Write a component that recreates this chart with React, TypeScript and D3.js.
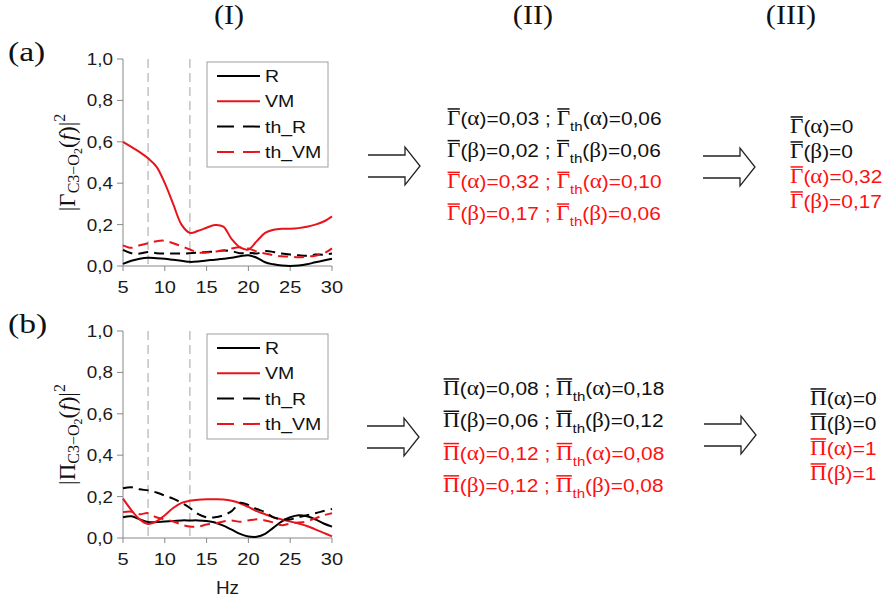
import React, { useEffect, useRef } from 'react';
import * as d3 from 'd3';

// ---------- data ----------
const hz = [5, 6, 7, 8, 9, 10, 11, 12, 13, 14, 15, 16, 17, 18, 19, 20, 21, 22, 23, 24, 25, 26, 27, 28, 29, 30];

const aR = [0.01, 0.025, 0.035, 0.04, 0.038, 0.035, 0.03, 0.025, 0.02, 0.022, 0.027, 0.03, 0.035, 0.04, 0.047, 0.052, 0.04, 0.018, 0.008, 0.002, 0.0, 0.002, 0.008, 0.018, 0.027, 0.035];
const aVM = [0.6, 0.575, 0.55, 0.52, 0.48, 0.4, 0.3, 0.2, 0.16, 0.17, 0.185, 0.198, 0.19, 0.13, 0.09, 0.08, 0.12, 0.16, 0.175, 0.18, 0.18, 0.183, 0.19, 0.2, 0.215, 0.24];
const aThR = [0.078, 0.062, 0.06, 0.068, 0.062, 0.06, 0.06, 0.06, 0.062, 0.065, 0.068, 0.07, 0.075, 0.072, 0.062, 0.065, 0.06, 0.072, 0.068, 0.06, 0.055, 0.052, 0.05, 0.055, 0.055, 0.06];
const aThVM = [0.1, 0.088, 0.1, 0.11, 0.12, 0.122, 0.11, 0.095, 0.08, 0.065, 0.065, 0.07, 0.075, 0.085, 0.09, 0.085, 0.07, 0.06, 0.052, 0.047, 0.045, 0.042, 0.045, 0.05, 0.06, 0.085];

const bR = [0.1, 0.105, 0.09, 0.077, 0.077, 0.08, 0.082, 0.085, 0.085, 0.085, 0.082, 0.075, 0.06, 0.04, 0.02, 0.007, 0.006, 0.02, 0.05, 0.08, 0.1, 0.11, 0.105, 0.09, 0.07, 0.055];
const bVM = [0.19, 0.135, 0.09, 0.068, 0.08, 0.11, 0.145, 0.17, 0.18, 0.185, 0.187, 0.187, 0.186, 0.18, 0.168, 0.15, 0.13, 0.115, 0.1, 0.09, 0.08, 0.07, 0.058, 0.042, 0.025, 0.008];
const bThR = [0.24, 0.245, 0.235, 0.23, 0.22, 0.205, 0.19, 0.17, 0.145, 0.115, 0.1, 0.1, 0.11, 0.13, 0.17, 0.16, 0.14, 0.125, 0.1, 0.09, 0.09, 0.1, 0.11, 0.12, 0.13, 0.14];
const bThVM = [0.125, 0.127, 0.115, 0.12, 0.1, 0.09, 0.08, 0.065, 0.055, 0.055, 0.065, 0.07, 0.08, 0.085, 0.078, 0.085, 0.09, 0.085, 0.075, 0.062, 0.07, 0.075, 0.08, 0.095, 0.11, 0.12];

const seriesNames = ['R', 'VM', 'th_R', 'th_VM'];
const yTicks = [0, 0.2, 0.4, 0.6, 0.8, 1.0];
const xTicks = [5, 10, 15, 20, 25, 30];
const bandLines = [8, 13];

const columnHeaders = ['(I)', '(II)', '(III)'];
const panelLabels = ['(a)', '(b)'];

const bands = ['α', 'β', 'α', 'β'];
const gammaMean = ['0,03', '0,02', '0,32', '0,17'];
const gammaTh = ['0,06', '0,06', '0,10', '0,06'];
const gammaFinal = ['0', '0', '0,32', '0,17'];
const piMean = ['0,08', '0,06', '0,12', '0,12'];
const piTh = ['0,18', '0,12', '0,08', '0,08'];
const piFinal = ['0', '0', '1', '1'];

// ---------- style ----------
const RED = '#e8141c';
const TXT_RED = '#ff1010';
const SANS = 'Liberation Sans, Arial, sans-serif';
const SERIF = 'Liberation Serif, Times New Roman, serif';
const SX = 1.18;

const seriesStyles = [
  { color: '#000', dash: 'none' },
  { color: RED, dash: 'none' },
  { color: '#000', dash: '10,6' },
  { color: RED, dash: '10,6' },
];

const xLeft = 123;
const xRight = 332;
const x = d3.scaleLinear().domain([5, 30]).range([xLeft, xRight]);

function SText({ x: tx, y: ty, sx = SX, anchor = 'start', size = 16, family = SANS, fill = '#1a1a1a', children }: any) {
  return (
    <text transform={`translate(${tx},${ty}) scale(${sx},1)`} textAnchor={anchor} fontFamily={family} fontSize={size} fill={fill}>
      {children}
    </text>
  );
}

function Panel({ top, bottom, data, sym, label, showHz }: any) {
  const y = d3.scaleLinear().domain([0, 1]).range([bottom, top]);
  const line = d3
    .line<number>()
    .x((_, i) => x(hz[i]))
    .y((d) => y(d))
    .curve(d3.curveCatmullRom.alpha(0.5));
  const legX = 207;
  const legY = top + 3;
  const mid = (top + bottom) / 2;
  return (
    <g>
      {bandLines.map((b) => (
        <line key={b} x1={x(b)} x2={x(b)} y1={top} y2={bottom} stroke="#b8b8b8" strokeWidth={1.3} strokeDasharray="9,5" />
      ))}
      <line x1={xLeft} x2={xLeft} y1={top} y2={bottom} stroke="#888" strokeWidth={1} />
      <line x1={xLeft} x2={xRight} y1={bottom} y2={bottom} stroke="#888" strokeWidth={1} />
      {yTicks.map((t) => (
        <g key={t}>
          <line x1={xLeft - 6} x2={xLeft} y1={y(t)} y2={y(t)} stroke="#888" />
          <SText x={xLeft - 10} y={y(t) + 6} anchor="end" size={16}>
            {t.toFixed(1).replace('.', ',')}
          </SText>
        </g>
      ))}
      {xTicks.map((t) => (
        <g key={t}>
          <line x1={x(t)} x2={x(t)} y1={bottom} y2={bottom + 5} stroke="#888" />
          <SText x={x(t)} y={bottom + 27} anchor="middle" size={17}>
            {t}
          </SText>
        </g>
      ))}
      {showHz && (
        <SText x={(xLeft + xRight) / 2} y={bottom + 56} anchor="middle" size={18} sx={1.05}>
          Hz
        </SText>
      )}
      {data.map((d: number[], i: number) => (
        <path key={i} d={line(d) || ''} fill="none" stroke={seriesStyles[i].color} strokeWidth={2} strokeDasharray={seriesStyles[i].dash} />
      ))}
      <rect x={legX} y={legY} width={121} height={105} fill="#fff" stroke="#a0a0a0" strokeWidth={1} />
      {seriesNames.map((n, i) => (
        <g key={n}>
          <line
            x1={legX + 10}
            x2={legX + 53}
            y1={legY + 14 + i * 25.3}
            y2={legY + 14 + i * 25.3}
            stroke={seriesStyles[i].color}
            strokeWidth={2}
            strokeDasharray={seriesStyles[i].dash === 'none' ? 'none' : '17,9'}
          />
          <SText x={legX + 58} y={legY + 20 + i * 25.3} size={16} sx={1.22} fill="#111">
            {n}
          </SText>
        </g>
      ))}
      <text transform={`translate(75,${mid}) rotate(-90)`} textAnchor="middle" fontFamily={SERIF} fontSize={23} fill="#111">
        |{sym}
        <tspan fontSize={16} dy={4}>C3−O</tspan>
        <tspan fontSize={12} dy={3}>2</tspan>
        <tspan dy={-7}>(</tspan>
        <tspan fontStyle="italic">f</tspan>
        <tspan>)|</tspan>
        <tspan fontSize={16} dy={-10}>2</tspan>
      </text>
      <SText x={8} y={top + 2} family={SERIF} size={28} sx={1.2} fill="#111">
        {label}
      </SText>
    </g>
  );
}

function StatLine({ x0, y0, sym, band, val, th, color }: any) {
  return (
    <g transform={`translate(${x0},${y0}) scale(1.16,1)`}>
      <text x={0} y={0} fill={color} fontFamily={SANS} fontSize={18}>
        <tspan className="ov" fontFamily={SERIF} fontSize={20}>
          {sym}
        </tspan>
        <tspan>(</tspan>
        <tspan fontFamily={SERIF} fontSize={20}>
          {band}
        </tspan>
        <tspan>{')=' + val}</tspan>
        {th !== undefined && (
          <>
            <tspan>{'\u00a0;\u00a0'}</tspan>
            <tspan className="ov" fontFamily={SERIF} fontSize={20}>
              {sym}
            </tspan>
            <tspan fontSize={13} dy={6}>
              th
            </tspan>
            <tspan dy={-6}>(</tspan>
            <tspan fontFamily={SERIF} fontSize={20}>
              {band}
            </tspan>
            <tspan>{')=' + th}</tspan>
          </>
        )}
      </text>
    </g>
  );
}

function Arrow({ x0, ym }: any) {
  const xs = x0 + 37;
  const xt = xs + 15;
  const d = `M${x0},${ym - 11} H${xs} V${ym - 19} L${xt},${ym} L${xs},${ym + 19} V${ym + 11} H${x0}`;
  return <path d={d} fill="#fff" stroke="#222" strokeWidth={1.3} />;
}

export default function App() {
  const svgRef = useRef<SVGSVGElement>(null);
  useEffect(() => {
    const svg = d3.select(svgRef.current);
    svg.selectAll('line.ovbar').remove();
    svg.selectAll<SVGTSpanElement, unknown>('tspan.ov').each(function () {
      const bb = (this as any).getBBox();
      const textEl = this.parentNode as Element;
      const fill = textEl.getAttribute('fill') || '#000';
      d3.select(textEl.parentNode as Element)
        .append('line')
        .attr('class', 'ovbar')
        .attr('x1', bb.x + 0.5)
        .attr('x2', bb.x + bb.width - 0.5)
        .attr('y1', bb.y + 1.5)
        .attr('y2', bb.y + 1.5)
        .attr('stroke', fill)
        .attr('stroke-width', 1.5);
    });
  }, []);

  const rowColor = (i: number) => (i < 2 ? '#111' : TXT_RED);

  return (
    <svg ref={svgRef} width={887} height={604} style={{ position: 'absolute', left: 0, top: 0, background: '#fff' }}>
      <rect width={887} height={604} fill="#fff" />
      {columnHeaders.map((h, i) => (
        <SText key={h} x={[229, 533, 791][i]} y={24} anchor="middle" family={SERIF} size={27} sx={1.12} fill="#111">
          {h}
        </SText>
      ))}
      <Panel top={59} bottom={266} data={[aR, aVM, aThR, aThVM]} sym="Γ" label={panelLabels[0]} showHz={false} />
      <Panel top={331} bottom={538} data={[bR, bVM, bThR, bThVM]} sym="Π" label={panelLabels[1]} showHz={true} />

      <Arrow x0={368} ym={166} />
      <Arrow x0={703} ym={167} />
      <Arrow x0={367} ym={437} />
      <Arrow x0={704} ym={435} />

      {bands.map((b, i) => (
        <StatLine key={'ga' + i} x0={447} y0={125 + i * 31.7} sym="Γ" band={b} val={gammaMean[i]} th={gammaTh[i]} color={rowColor(i)} />
      ))}
      {bands.map((b, i) => (
        <StatLine key={'gf' + i} x0={790} y0={133 + i * 25} sym="Γ" band={b} val={gammaFinal[i]} color={rowColor(i)} />
      ))}
      {bands.map((b, i) => (
        <StatLine key={'pa' + i} x0={443} y0={395 + i * 32.3} sym="Π" band={b} val={piMean[i]} th={piTh[i]} color={rowColor(i)} />
      ))}
      {bands.map((b, i) => (
        <StatLine key={'pf' + i} x0={810} y0={405 + i * 25} sym="Π" band={b} val={piFinal[i]} color={rowColor(i)} />
      ))}
    </svg>
  );
}
